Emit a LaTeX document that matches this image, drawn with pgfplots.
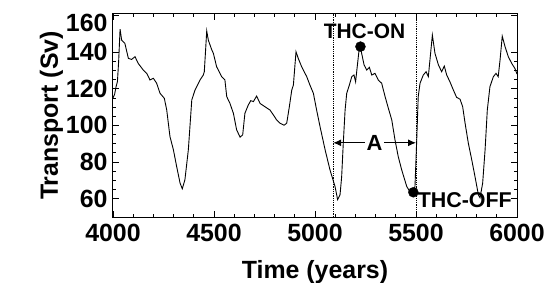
\documentclass[border=0pt]{standalone}
\usepackage{pgfplots}
\pgfplotsset{compat=1.18}
\usepackage{fontspec}
\setmainfont{Liberation Sans}
\usetikzlibrary{arrows.meta}
\begin{document}
\begin{tikzpicture}
\useasboundingbox (-113bp,-66bp) rectangle (440bp,217bp);
\begin{axis}[
  at={(0,0)}, anchor=south west,
  scale only axis, width=404bp, height=203bp,
  xmin=4000, xmax=6000, ymin=50, ymax=160.8,
  xtick={4000,4500,5000,5500,6000},
  ytick={60,80,100,120,140},
  extra y ticks={160},
  extra y tick style={yticklabel style={yshift=-7bp}},
  minor x tick num=4, minor y tick num=3,
  tick align=inside,
  major tick length=6bp, minor tick length=3bp,
  axis line style={line width=1bp},
  every tick/.style={black, line width=0.8bp},
  /pgf/number format/assume math mode=true,
  /pgf/number format/set thousands separator={},
  tick label style={font=\bfseries\fontsize{25}{30}\selectfont},
  xticklabel style={yshift=-4bp},
  yticklabel style={xshift=-2bp},
  xlabel={Time (years)}, ylabel={Transport (Sv)},
  label style={font=\bfseries\fontsize{25}{30}\selectfont},
  xlabel style={yshift=-11bp},
  ylabel style={yshift=-4bp},
]
\addplot[black, line width=0.9bp] coordinates {
(4000,115) (4008,117) (4015,121) (4022,124) (4028,135) (4035,152.5)
(4043,146.5) (4059,144.7) (4076,136.6) (4092,136) (4109,137.5) (4125,133.8)
(4150,130.2) (4167,128.4) (4183,124.8) (4200,125.7) (4216,123) (4233,117.5)
(4254,114.8) (4266,108.4) (4282,93.9) (4299,86.7) (4315,77.6) (4332,68.5)
(4343,65.4) (4356,70.3) (4373,86.7) (4390,113.9) (4406,119.3) (4431,124.8)
(4447,127.5) (4452,129.3) (4464,151.5) (4472,146.5) (4488,141.5) (4497,139.3)
(4513,132) (4538,126.6) (4554,124.8) (4563,115.7) (4579,112) (4596,106.6)
(4612,97.6) (4629,93.6) (4642,94.8) (4653,106.6) (4670,111.2) (4682,113.5)
(4695,113) (4711,116) (4728,112) (4752,110.2) (4777,108.4) (4794,105.7)
(4810,103) (4827,101.2) (4847,100.1) (4860,101.2) (4873,110.2) (4885,119.3)
(4893,122) (4906,140.2) (4917,136.6) (4934,132) (4959,126.6) (4975,122)
(4992,117.5) (5008,108.4) (5025,99.3) (5050,86.7) (5074,75.8) (5099,66.7)
(5112,59.5) (5124,62.2) (5132,72) (5140,90.3) (5149,108.4) (5157,117.5)
(5170,122) (5182,126.6) (5193,127.5) (5201,123.8) (5209,132) (5218,141)
(5225,143) (5231,139.3) (5243,133) (5256,130.2) (5269,131.7) (5281,127.5)
(5297,128.4) (5313,124.8) (5330,123) (5347,115.7) (5363,109.4) (5380,103)
(5396,92.1) (5412,83) (5429,75.8) (5454,66.7) (5479,62) (5487,63.5)
(5495,66.7) (5503,90.3) (5511,115.7) (5520,123) (5536,127.5) (5550,129.3)
(5561,126.6) (5569,135.6) (5581,149.3) (5594,139.3) (5611,133) (5627,129.3)
(5640,132.4) (5652,127.5) (5668,123.8) (5685,119.3) (5701,115.3) (5718,114.3)
(5731,110.2) (5743,101.2) (5759,90.3) (5776,81.2) (5792,72.1) (5809,62)
(5817,60.5) (5830,68.5) (5842,86.7) (5853,108.4) (5866,121.1) (5883,126.6)
(5896,128.4) (5907,126.6) (5916,135.6) (5927,148.7) (5941,142.9) (5957,137.5)
(5974,133.8) (5990,131) (6000,128)
};
\addplot[black, densely dotted, line width=0.8bp] coordinates {(5090,50) (5090,160.8)};
\addplot[black, densely dotted, line width=0.8bp] coordinates {(5500,50) (5500,160.8)};
\addplot[only marks, mark=*, mark size=5bp, black] coordinates {(5225,143) (5487,63.5)};
\draw[line width=1bp, {Latex[length=8bp,width=7bp]}-{Latex[length=8bp,width=7bp]}]
  (axis cs:5090,90.5) -- (axis cs:5500,90.5)
  node[midway, fill=white, inner sep=1.5bp, font=\bfseries\fontsize{22}{26}\selectfont] {A};
\node[font=\bfseries\fontsize{21}{25}\selectfont] at (axis cs:5245,151.4) {THC-ON};
\node[anchor=west, inner sep=0pt, font=\bfseries\fontsize{21.5}{25}\selectfont] at (axis cs:5508,59) {THC-OFF};
\end{axis}
\end{tikzpicture}
\end{document}
